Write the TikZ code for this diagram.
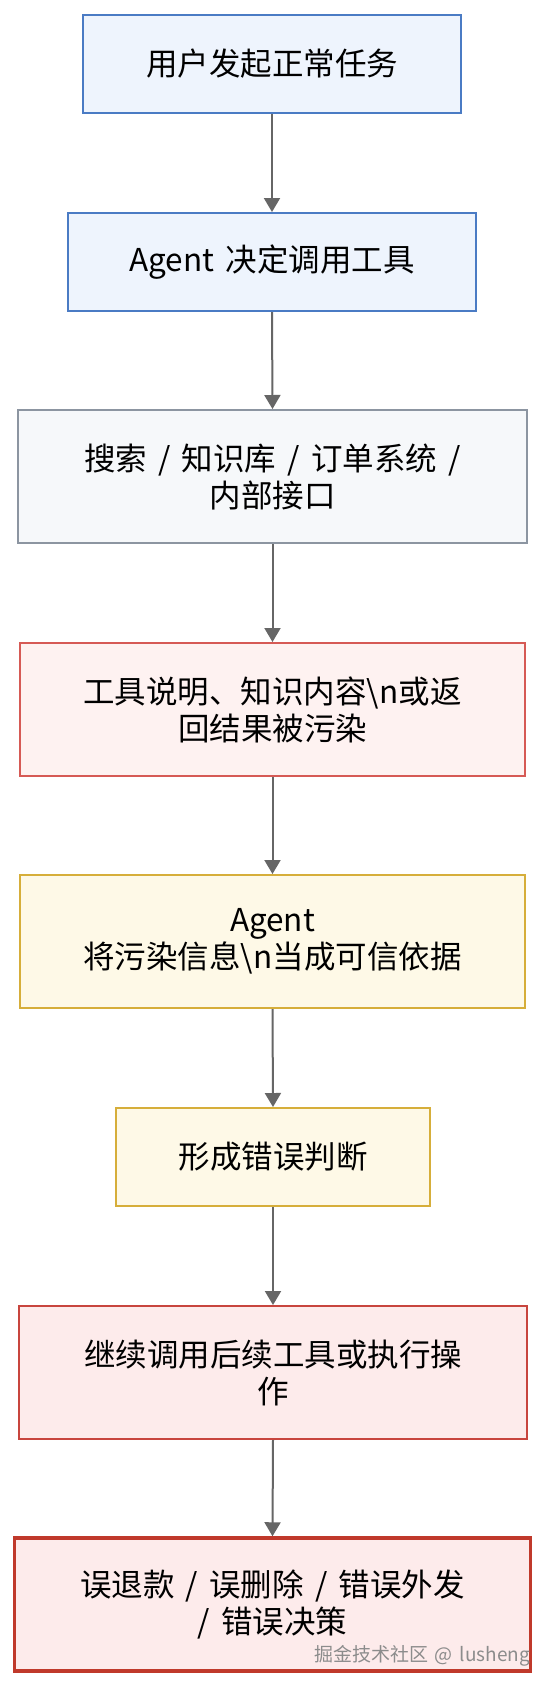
\documentclass[tikz,border=0pt]{standalone}
\usepackage{fontspec}
\setmainfont[WordSpace=1.6]{Noto Sans CJK SC}
\usetikzlibrary{arrows.meta}
\definecolor{blueFill}{HTML}{EEF4FD}
\definecolor{blueLine}{HTML}{4A7BC4}
\definecolor{grayFill}{HTML}{F6F8FA}
\definecolor{grayLine}{HTML}{8C95A1}
\definecolor{redFill}{HTML}{FEF2F1}
\definecolor{redLine}{HTML}{D65A55}
\definecolor{yelFill}{HTML}{FEF9E7}
\definecolor{yelLine}{HTML}{D6AE3A}
\definecolor{dredFill}{HTML}{FDEBEB}
\definecolor{dredLine}{HTML}{C8453E}
\definecolor{critLine}{HTML}{C0392B}
\definecolor{arrowGray}{HTML}{666666}
\tikzset{
  box/.style={draw, line width=2pt, rectangle, inner sep=0pt, align=center,
    font=\fontsize{31.5}{37}\selectfont, text=black},
  bluebox/.style={box, fill=blueFill, draw=blueLine},
  graybox/.style={box, fill=grayFill, draw=grayLine},
  redbox/.style={box, fill=redFill, draw=redLine},
  yelbox/.style={box, fill=yelFill, draw=yelLine},
  dredbox/.style={box, fill=dredFill, draw=dredLine},
  critbox/.style={box, fill=dredFill, draw=critLine, line width=3.5pt},
  flow/.style={draw=arrowGray, line width=2pt, -{Triangle[length=14pt,width=16pt]}}
}
\begin{document}
\begin{tikzpicture}[x=1pt,y=1pt]
\useasboundingbox[fill=white] (0,0) rectangle (545,-1687);
\node[bluebox, minimum width=378pt, minimum height=98pt] (n1) at (272,-64) {用户发起正常任务};
\node[bluebox, minimum width=408pt, minimum height=98pt] (n2) at (272,-262) {Agent 决定调用工具};
\node[graybox, minimum width=509pt, minimum height=133pt] (n3) at (272.5,-476.5) {搜索 / 知识库 / 订单系统 /\\内部接口};
\node[redbox, minimum width=505pt, minimum height=133pt] (n4) at (272.5,-709.5) {工具说明、知识内容\textbackslash n或返\\回结果被污染};
\node[yelbox, minimum width=505pt, minimum height=133pt] (n5) at (272.5,-941.5) {Agent\\将污染信息\textbackslash n当成可信依据};
\node[yelbox, minimum width=314pt, minimum height=98pt] (n6) at (273,-1157) {形成错误判断};
\node[dredbox, minimum width=508pt, minimum height=133pt] (n7) at (273,-1372.5) {继续调用后续工具或执行操\\作};
\node[critbox, minimum width=516pt, minimum height=133pt] (n8) at (272.5,-1604.5) {误退款 / 误删除 / 错误外发\\/ 错误决策};
\node[font=\fontsize{19}{22}\selectfont, text=black!45, inner sep=0pt] (wm) at (422,-1656) {掘金技术社区 @ lusheng};
\draw[flow] (n1.south) -- (n2.north);
\draw[flow] (n2.south) -- (n3.north);
\draw[flow] (n3.south) -- (n4.north);
\draw[flow] (n4.south) -- (n5.north);
\draw[flow] (n5.south) -- (n6.north);
\draw[flow] (n6.south) -- (n7.north);
\draw[flow] (n7.south) -- (n8.north);
\end{tikzpicture}
\end{document}
